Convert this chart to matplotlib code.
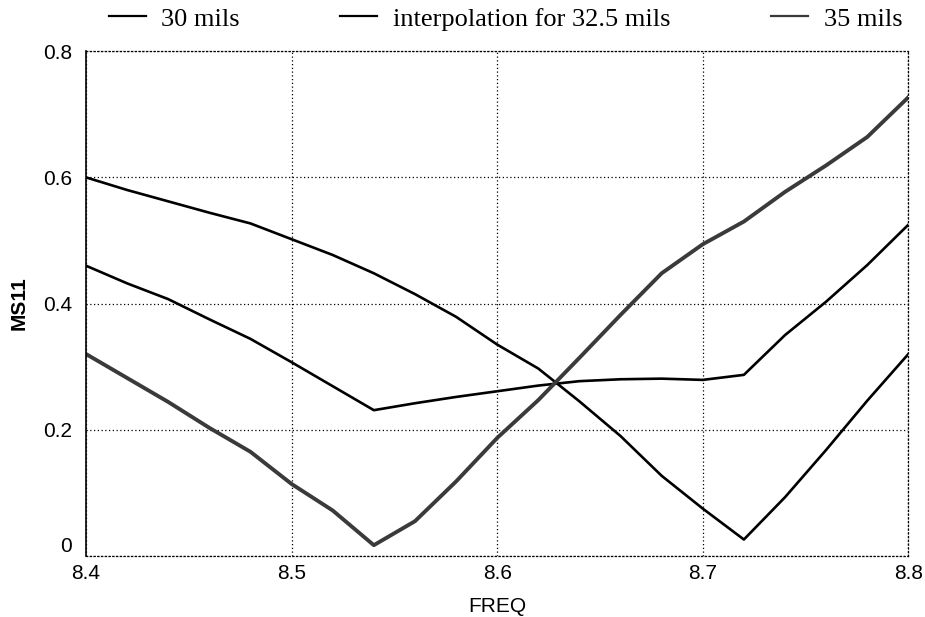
import numpy as np
import matplotlib.pyplot as plt

# data
freq = [8.40, 8.42, 8.44, 8.46, 8.48, 8.50, 8.52, 8.54, 8.56, 8.58, 8.60,
        8.62, 8.64, 8.66, 8.68, 8.70, 8.72, 8.74, 8.76, 8.78, 8.80]
ms11_30 = [0.600, 0.580, 0.562, 0.544, 0.527, 0.502, 0.477, 0.448, 0.415, 0.379, 0.335,
           0.297, 0.245, 0.190, 0.127, 0.075, 0.026, 0.093, 0.168, 0.246, 0.320]
ms11_interp = [0.460, 0.432, 0.407, 0.375, 0.344, 0.307, 0.269, 0.231, 0.242, 0.252, 0.261,
               0.270, 0.277, 0.280, 0.281, 0.279, 0.287, 0.350, 0.403, 0.461, 0.525]
ms11_35 = [0.320, 0.282, 0.244, 0.203, 0.165, 0.114, 0.072, 0.017, 0.055, 0.118, 0.187,
           0.247, 0.314, 0.382, 0.448, 0.494, 0.530, 0.577, 0.619, 0.664, 0.727]

labels = ["30 mils", "interpolation for 32.5 mils", "35 mils"]
xticks = [8.4, 8.5, 8.6, 8.7, 8.8]
yticks = [0, 0.2, 0.4, 0.6, 0.8]
yticklabels = ["0", "0.2", "0.4", "0.6", "0.8"]

fig = plt.figure(figsize=(9.25, 6.17), dpi=100)
ax = fig.add_axes([0.093, 0.099, 0.889, 0.818])

ax.plot(freq, ms11_30, color="black", lw=1.9, label=labels[0])
ax.plot(freq, ms11_interp, color="black", lw=1.9, label=labels[1])
ax.plot(freq, ms11_35, color="#3a3a3a", lw=2.8, label=labels[2])

ax.set_xlim(8.4, 8.8)
ax.set_ylim(0, 0.8)
ax.set_xticks(xticks)
ax.set_xticklabels([str(t) for t in xticks])
ax.set_yticks(yticks)
ax.set_yticklabels(yticklabels)
ax.tick_params(axis="y", length=0, labelsize=15, pad=10)
ax.tick_params(axis="x", length=0, labelsize=15, pad=6)
for lab in ax.get_xticklabels() + ax.get_yticklabels():
    lab.set_family("Liberation Sans")
# the "0" sits a little above the bottom edge in the original
ax.get_yticklabels()[0].set_va("bottom")

ax.grid(True, linestyle=(0, (1, 2)), color="black", lw=0.9)
for side in ["top", "right", "bottom"]:
    ax.spines[side].set_linestyle((0, (1, 2)))
    ax.spines[side].set_linewidth(0.9)
ax.spines["left"].set_linewidth(1.2)

ax.set_xlabel("FREQ", family="Liberation Sans", fontsize=15, labelpad=10)
ax.set_ylabel("MS11", family="Liberation Sans", fontsize=15, fontweight="bold", labelpad=10)

leg = ax.legend(ncol=3, loc="lower center", bbox_to_anchor=(0.51, 1.02), frameon=False,
                prop={"family": "Liberation Serif", "size": 19},
                handlelength=1.4, handletextpad=0.6, columnspacing=3.8, borderaxespad=0)
for h in leg.get_lines():
    h.set_linewidth(1.6)

fig.savefig("out.png", dpi=100)
